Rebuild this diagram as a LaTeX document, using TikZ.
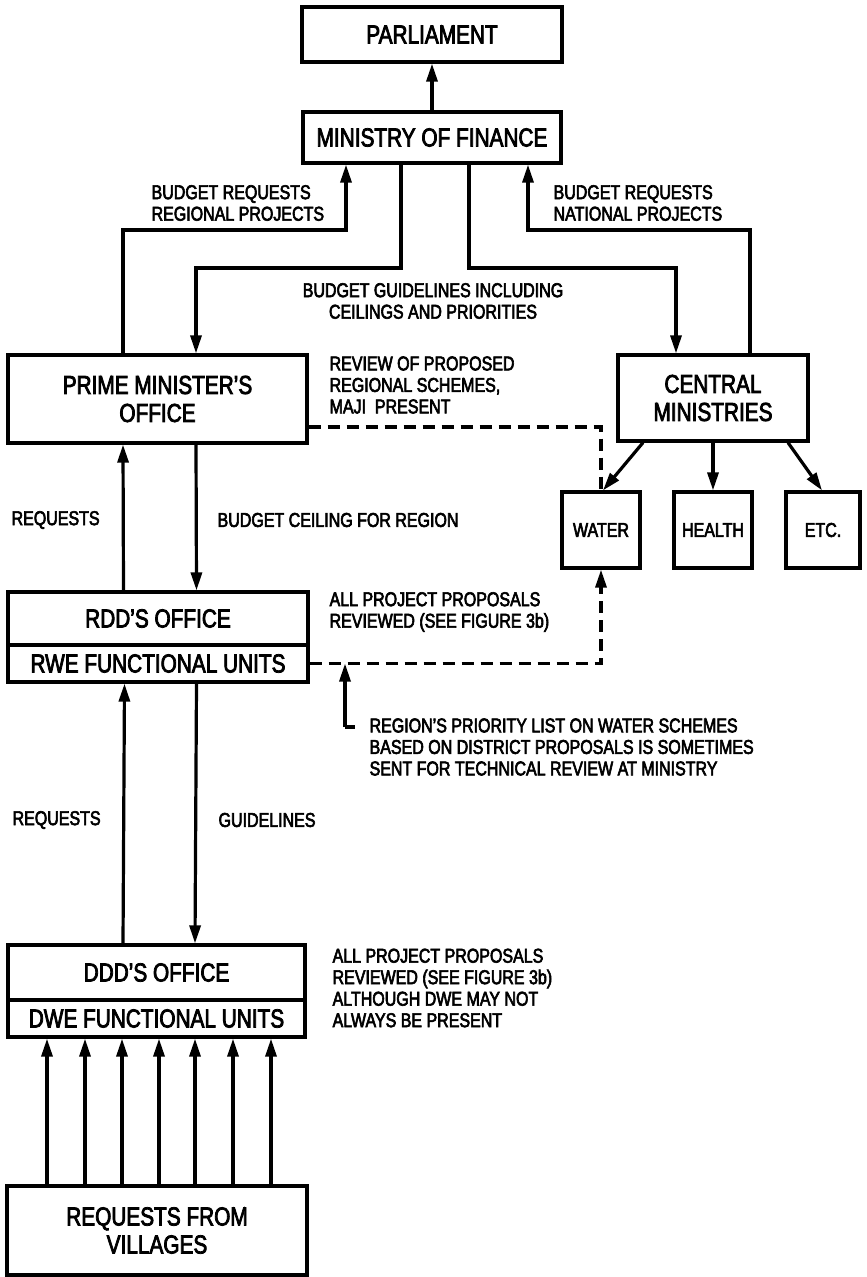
\documentclass[tikz,border=0pt]{standalone}
\usepackage{fontspec}
\setmainfont{Liberation Sans}[FakeStretch=0.8,FakeBold=3]
\usetikzlibrary{arrows.meta}
\newcommand\boxfont{\fontsize{26}{28}\selectfont}
\newcommand\lblfont{\fontsize{20}{21.5}\selectfont}
\tikzset{>={Triangle[length=18pt,width=11pt]},
  box/.style={draw,rectangle,inner sep=0pt,align=center,font=\boxfont},
  smallbox/.style={box,font=\lblfont,minimum width=78pt,minimum height=76pt},
  lbl/.style={inner sep=0pt,align=left,anchor=west,font=\lblfont},
  dashline/.style={dash pattern=on 12pt off 7pt}}

\begin{document}
\begin{tikzpicture}[x=1pt,y=-1pt,line width=3.2pt]
  \useasboundingbox (0,0) rectangle (867,1277);

  \node[box,minimum width=260pt,minimum height=55pt] (parl) at (432,34.5) {PARLIAMENT};
  \node[box,minimum width=258pt,minimum height=51pt] (mof) at (432,137.5) {MINISTRY OF FINANCE};
  \node[box,minimum width=299pt,minimum height=88pt] (pmo) at (157.5,399) {PRIME MINISTER'S\\OFFICE};
  \node[box,minimum width=190pt,minimum height=86pt] (cm) at (713,398) {CENTRAL\\MINISTRIES};
  \node[smallbox] (water) at (601,530) {WATER};
  \node[smallbox] (health) at (713,530) {HEALTH};
  \node[smallbox,minimum width=74pt] (etc) at (823,530) {ETC.};
  \node[box,minimum width=300pt,minimum height=53pt] (rdd) at (158,618.5) {RDD'S OFFICE};
  \node[box,minimum width=300pt,minimum height=37pt] (rwe) at (158,663.5) {RWE FUNCTIONAL UNITS};
  \node[box,minimum width=297pt,minimum height=55pt] (ddd) at (156.5,972.5) {DDD'S OFFICE};
  \node[box,minimum width=297pt,minimum height=37pt] (dwe) at (156.5,1018.5) {DWE FUNCTIONAL UNITS};
  \node[box,minimum width=300pt,minimum height=89pt] (vil) at (157,1230.5) {REQUESTS FROM\\VILLAGES};

  % labels
  \node[lbl] (regreq) at (150,203) {BUDGET REQUESTS\\REGIONAL PROJECTS};
  \node[lbl] (natreq) at (552,203) {BUDGET REQUESTS\\NATIONAL PROJECTS};
  \node[lbl,align=center,anchor=center] (guide) at (433,301) {BUDGET GUIDELINES INCLUDING\\CEILINGS AND PRIORITIES};
  \node[lbl] (review) at (328,385) {REVIEW OF PROPOSED\\REGIONAL SCHEMES,\\MAJI\ \ PRESENT};
  \node[lbl] (req1) at (10,520) {REQUESTS};
  \node[lbl] (ceil) at (216,520) {BUDGET CEILING FOR REGION};
  \node[lbl] (rddnote) at (328,612) {ALL PROJECT PROPOSALS\\REVIEWED (SEE FIGURE 3b)};
  \node[lbl] (prionote) at (368,747) {REGION'S PRIORITY LIST ON WATER SCHEMES\\BASED ON DISTRICT PROPOSALS IS SOMETIMES\\SENT FOR TECHNICAL REVIEW AT MINISTRY};
  \node[lbl] (req2) at (11,820) {REQUESTS};
  \node[lbl] (guide2) at (217,820) {GUIDELINES};
  \node[lbl] (dddnote) at (331,988) {ALL PROJECT PROPOSALS\\REVIEWED (SEE FIGURE 3b)\\ALTHOUGH DWE MAY NOT\\ALWAYS BE PRESENT};

  \coordinate (bl) at (123,230);
  \coordinate (br) at (750,230);
  \coordinate (gl) at (196,268);
  \coordinate (gr) at (676,268);
  \coordinate (nt) at (345,727);

  \draw[->] (mof) -- (parl);
  \draw[->] (bl |- pmo.north) -- (bl) -| ([xshift=-86pt]mof.south);
  \draw[->] (br |- cm.north) -- (br) -| ([xshift=96pt]mof.south);
  \draw[->] ([xshift=-31pt]mof.south) |- (gl) -- (gl |- pmo.north);
  \draw[->] ([xshift=37pt]mof.south) |- (gr) -- (gr |- cm.north);

  \draw[->] ([xshift=-70pt]cm.south) -- ([xshift=2pt]water.north);
  \draw[->] (cm) -- (health);
  \draw[->] ([xshift=75pt]cm.south) -- ([xshift=-1pt]etc.north);

  \draw[dashline] ([yshift=-28pt]pmo.east) -| (water.north);
  \draw[dashline,->] (rwe.east) -| (water.south);
  \draw[->] (nt) -- (nt |- rwe.east);
  \draw (nt) -- ++(10,0);

  \draw[->] ([xshift=-34.5pt]rdd.north) -- ([xshift=-34.5pt]pmo.south);
  \draw[->] ([xshift=38.5pt]pmo.south) -- ([xshift=38.5pt]rdd.north);
  \draw[->] ([xshift=-33.5pt]ddd.north) -- ([xshift=-33.5pt]rwe.south);
  \draw[->] ([xshift=38.5pt]rwe.south) -- ([xshift=38.5pt]ddd.north);

  \foreach \x in {47,85,122,159,195,233,271}
    \draw[->] (vil.north -| \x,0) -- (dwe.south -| \x,0);
\end{tikzpicture}
\end{document}
